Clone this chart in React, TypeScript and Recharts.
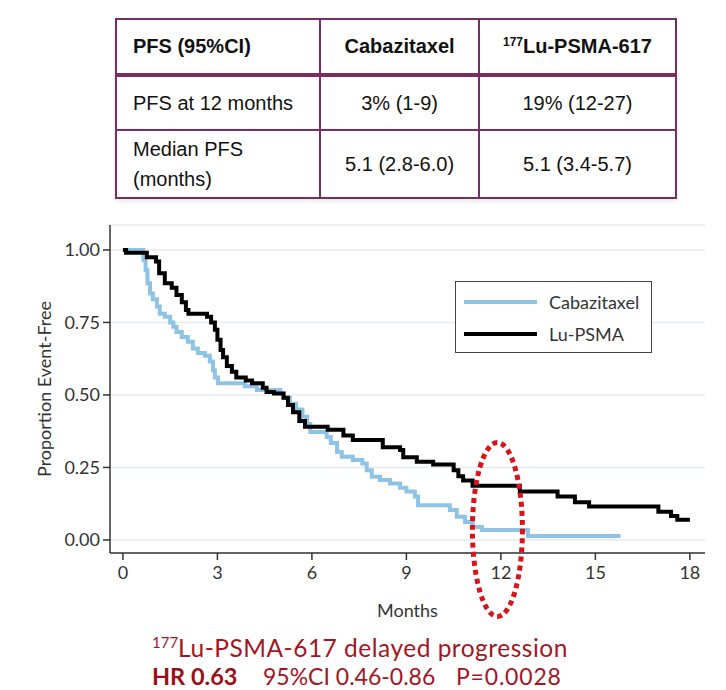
import {
  CartesianGrid,
  Legend,
  Line,
  LineChart,
  ReferenceDot,
  XAxis,
  YAxis,
} from 'recharts'

// Kaplan-Meier steps (months, proportion event-free)
const luMonths = [
  0, 0.1, 0.76, 1.05, 1.15, 1.33, 1.55, 1.7, 1.87, 2.0, 2.08, 2.67, 2.8, 2.92, 3.0, 3.1,
  3.18, 3.3, 3.46, 3.6, 3.9, 4.1, 4.44, 4.56, 4.8, 5.1, 5.24, 5.4, 5.6, 5.78, 6.5, 7.0,
  7.3, 8.25, 8.8, 8.9, 9.33, 9.85, 10.5, 10.65, 10.8, 11.1, 12.6, 13.8, 14.35, 14.8, 17.0,
  17.4, 17.6, 18.0,
]
const luSurv = [
  1.0, 0.99, 0.975, 0.96, 0.92, 0.885, 0.87, 0.845, 0.82, 0.793, 0.78, 0.77, 0.75, 0.725,
  0.69, 0.655, 0.63, 0.6, 0.58, 0.56, 0.55, 0.54, 0.525, 0.51, 0.505, 0.49, 0.465, 0.44,
  0.41, 0.39, 0.38, 0.36, 0.345, 0.32, 0.31, 0.285, 0.27, 0.26, 0.24, 0.22, 0.205, 0.187,
  0.167, 0.15, 0.13, 0.115, 0.097, 0.083, 0.07, 0.07,
]

const cabMonths = [
  0, 0.65, 0.72, 0.78, 0.86, 0.95, 1.08, 1.17, 1.33, 1.5, 1.6, 1.7, 1.87, 2.06, 2.22, 2.38,
  2.6, 2.76, 2.86, 2.92, 3.02, 3.87, 4.25, 5.0, 5.1, 5.3, 5.5, 5.7, 5.85, 5.95, 6.47, 6.6,
  6.8, 6.95, 7.3, 7.6, 7.74, 7.9, 8.16, 8.48, 8.8, 9.0, 9.27, 9.37, 10.38, 10.6, 10.86,
  11.1, 11.4, 12.86, 15.8,
]
const cabSurv = [
  1.0, 0.965, 0.93, 0.885, 0.85, 0.83, 0.805, 0.78, 0.77, 0.75, 0.735, 0.717, 0.7, 0.683,
  0.66, 0.645, 0.635, 0.615, 0.585, 0.56, 0.54, 0.53, 0.517, 0.505, 0.49, 0.47, 0.45, 0.425,
  0.4, 0.372, 0.355, 0.334, 0.303, 0.287, 0.276, 0.264, 0.24, 0.218, 0.207, 0.195, 0.18,
  0.167, 0.15, 0.12, 0.103, 0.08, 0.062, 0.045, 0.034, 0.014, 0.014,
]

const monthTicks = [0, 3, 6, 9, 12, 15, 18]
const propTicks = [0, 0.25, 0.5, 0.75, 1]

const tableHead = ['PFS (95%CI)', 'Cabazitaxel', 'Lu-PSMA-617']
const tableRows = [
  ['PFS at 12 months', '3% (1-9)', '19% (12-27)'],
  ['Median PFS\n(months)', '5.1 (2.8-6.0)', '5.1 (3.4-5.7)'],
]

const luData = luMonths.map((t, i) => ({ t, s: luSurv[i] }))
const cabData = cabMonths.map((t, i) => ({ t, s: cabSurv[i] }))

const PLUM = '#7b2d62'
const RED = '#a3151f'
const chartFont = 'Lato, "Open Sans", sans-serif'

function PfsTable() {
  const cell = (extra: React.CSSProperties): React.CSSProperties => ({
    border: `2px solid ${PLUM}`,
    padding: 0,
    fontSize: 20,
    color: '#111',
    ...extra,
  })
  return (
    <table
      style={{
        position: 'absolute',
        left: 115,
        top: 18,
        width: 562,
        height: 179,
        borderCollapse: 'collapse',
        fontFamily: '"Liberation Sans", Arial, sans-serif',
        background: '#fff',
        boxShadow: '0 3px 4px rgba(0,0,0,0.08)',
      }}
    >
      <colgroup>
        <col style={{ width: 205 }} />
        <col style={{ width: 159 }} />
        <col style={{ width: 198 }} />
      </colgroup>
      <tbody>
        <tr style={{ height: 56 }}>
          {tableHead.map((h, i) => (
            <td
              key={h}
              style={cell({
                fontWeight: 700,
                textAlign: i === 0 ? 'left' : 'center',
                paddingLeft: i === 0 ? 16 : 0,
                borderBottom: `4px solid ${PLUM}`,
              })}
            >
              {i === 2 ? (
                <>
                  <sup style={{ fontSize: 12, verticalAlign: 7 }}>177</sup>
                  {h}
                </>
              ) : (
                h
              )}
            </td>
          ))}
        </tr>
        {tableRows.map((row, r) => (
          <tr key={r} style={{ height: r === 0 ? 55 : 68 }}>
            {row.map((v, i) => (
              <td
                key={i}
                style={cell({
                  textAlign: i === 0 ? 'left' : 'center',
                  paddingLeft: i === 0 ? 16 : 0,
                  whiteSpace: 'pre-line',
                  lineHeight: '30px',
                })}
              >
                {v}
              </td>
            ))}
          </tr>
        ))}
      </tbody>
    </table>
  )
}

function LegendBox() {
  const item = (color: string, label: string) => (
    <div style={{ display: 'flex', alignItems: 'center', height: 32 }}>
      <div style={{ width: 73, height: 4, background: color, marginLeft: 8 }} />
      <span style={{ marginLeft: 12, fontSize: 18, color: '#333', fontFamily: chartFont }}>
        {label}
      </span>
    </div>
  )
  return (
    <div
      style={{
        boxSizing: 'border-box',
        width: 197,
        height: 72,
        border: '1.5px solid #444',
        background: '#fff',
        paddingTop: 4,
      }}
    >
      {item('#8ec3e6', 'Cabazitaxel')}
      {item('#000', 'Lu-PSMA')}
    </div>
  )
}

const Ellipse = (props: any) => (
  <ellipse
    cx={props.cx}
    cy={props.cy}
    rx={25}
    ry={87}
    fill="none"
    stroke="#d7141c"
    strokeWidth={5}
    strokeDasharray="5 4"
  />
)

export default function App() {
  return (
    <div style={{ position: 'absolute', left: 0, top: 0, width: 726, height: 690, background: '#fff' }}>
      <PfsTable />
      <div style={{ position: 'absolute', left: 0, top: 0 }}>
        <LineChart
          width={726}
          height={690}
          margin={{ top: 225, right: 21, bottom: 73, left: 40 }}
          style={{ fontFamily: chartFont }}
        >
          <CartesianGrid vertical={false} stroke="#e4eaed" strokeWidth={1.5} />
          <XAxis
            type="number"
            dataKey="t"
            domain={[-0.41, 18.48]}
            ticks={monthTicks}
            allowDataOverflow
            height={64}
            tickSize={7}
            tickMargin={6}
            tick={{ fontSize: 18, fill: '#333' }}
            axisLine={{ stroke: '#333', strokeWidth: 1.5 }}
            tickLine={{ stroke: '#333', strokeWidth: 1.5 }}
            label={{ value: 'Months', position: 'insideBottom', offset: 0, fontSize: 18, fill: '#333' }}
          />
          <YAxis
            type="number"
            domain={[-0.045, 1.086]}
            ticks={propTicks}
            allowDataOverflow
            width={70}
            tickSize={7}
            tickMargin={3}
            tickFormatter={(v) => Number(v).toFixed(2)}
            tick={{ fontSize: 18, fill: '#333' }}
            axisLine={{ stroke: '#333', strokeWidth: 1.5 }}
            tickLine={{ stroke: '#333', strokeWidth: 1.5 }}
            label={{
              value: 'Proportion Event-Free',
              angle: -90,
              position: 'insideLeft',
              offset: 5,
              fontSize: 18,
              fill: '#333',
              style: { textAnchor: 'middle' },
            }}
          />
          <Legend
            layout="vertical"
            align="center"
            verticalAlign="middle"
            wrapperStyle={{ left: 455, top: 281, width: 197, height: 72 }}
            content={() => <LegendBox />}
          />
          <Line
            data={cabData}
            dataKey="s"
            name="Cabazitaxel"
            type="stepAfter"
            stroke="#8ec3e6"
            strokeWidth={4}
            dot={false}
            isAnimationActive={false}
          />
          <Line
            data={luData}
            dataKey="s"
            name="Lu-PSMA"
            type="stepAfter"
            stroke="#000"
            strokeWidth={4}
            dot={false}
            isAnimationActive={false}
          />
          <ReferenceDot x={11.89} y={0.036} ifOverflow="visible" shape={Ellipse} />
        </LineChart>
      </div>
      <div
        style={{
          position: 'absolute',
          left: 152,
          top: 634,
          width: 520,
          height: 56,
          fontFamily: chartFont,
          color: RED,
          whiteSpace: 'nowrap',
        }}
      >
        <div style={{ fontSize: 24.5, lineHeight: '28px', height: 28, letterSpacing: 0.5 }}>
          <sup style={{ fontSize: 15, lineHeight: 0, verticalAlign: 9, letterSpacing: 0 }}>177</sup>
          Lu-PSMA-617 delayed progression
        </div>
        <div style={{ position: 'absolute', top: 28, left: 0, fontSize: 23.5, lineHeight: '28px' }}>
          <b style={{ color: '#9b0f17' }}>HR 0.63</b>
        </div>
        <div style={{ position: 'absolute', top: 28, left: 111, fontSize: 23, lineHeight: '28px' }}>
          95%CI 0.46-0.86
        </div>
        <div style={{ position: 'absolute', top: 28, left: 304, fontSize: 23, lineHeight: '28px', letterSpacing: 0.8 }}>
          P=0.0028
        </div>
      </div>
    </div>
  )
}
